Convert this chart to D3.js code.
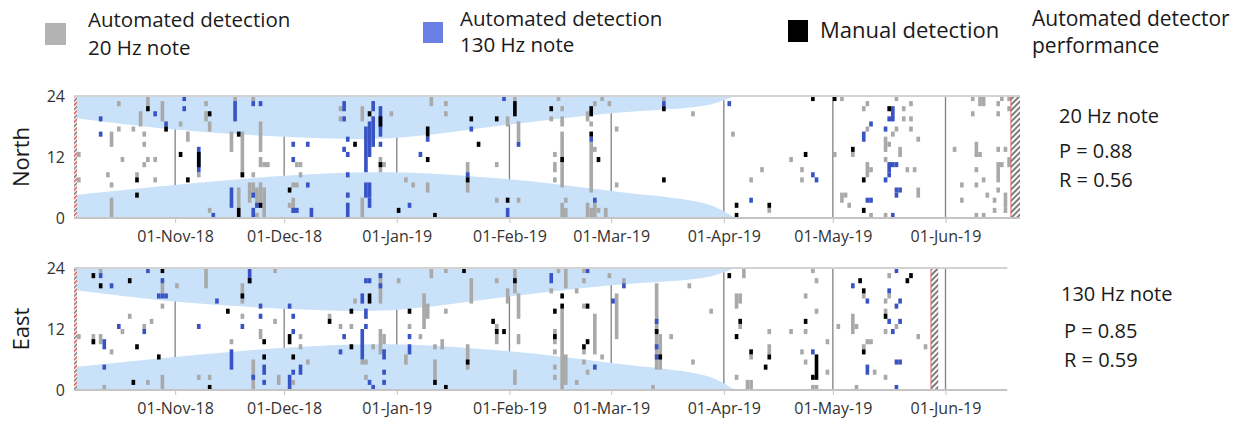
<!DOCTYPE html>
<html><head><meta charset="utf-8">
<script src="https://cdn.jsdelivr.net/npm/d3@7"></script>
<style>
body{margin:0;background:#fff;}
svg{display:block;font-family:"Open Sans",sans-serif;}
</style></head><body>
<svg id="c" width="1253" height="421"></svg>
<script>
// ---------------- DATA ----------------
// detections: [date, first hour, last hour] (hour cells, inclusive runs)
const north20 = [
["2018-10-05",12,12],["2018-10-05",7,7],["2018-10-13",8,8],["2018-10-14",14,16],["2018-10-14",6,6],["2018-10-14",0,3],
["2018-10-16",22,22],["2018-10-16",17,17],["2018-10-17",11,11],["2018-10-20",17,17],["2018-10-21",8,8],["2018-10-22",18,20],
["2018-10-23",16,16],["2018-10-23",14,14],["2018-10-23",10,10],["2018-10-24",11,11],["2018-10-24",22,23],["2018-10-26",11,11],
["2018-10-26",7,7],["2018-10-28",19,22],["2018-11-02",18,18],["2018-11-04",15,16],["2018-11-07",8,8],["2018-11-09",22,22],
["2018-11-09",19,20],["2018-11-10",17,18],["2018-11-10",1,1],["2018-11-17",23,23],["2018-11-16",13,16],["2018-11-18",2,5],
["2018-11-19",8,16],["2018-11-22",23,23],["2018-11-22",8,8],["2018-11-24",13,18],["2018-11-21",3,6],["2018-11-22",4,6],
["2018-11-23",2,5],["2018-11-24",3,6],["2018-11-25",1,5],["2018-11-23",0,0],["2018-11-25",0,0],["2018-11-24",10,11],
["2018-11-25",10,10],["2018-11-26",10,10],["2018-12-02",2,2],["2018-12-03",1,3],["2018-12-04",10,10],["2018-12-05",10,10],
["2018-12-04",6,6],["2018-12-05",8,8],["2018-12-03",6,6],["2018-12-16",19,19],["2018-12-16",21,21],["2018-12-18",4,4],
["2018-12-22",19,21],["2018-12-22",0,3],["2018-12-27",9,11],["2018-12-30",20,20],["2018-12-28",10,10],
["2019-01-10",22,23],["2019-01-14",22,22],["2019-01-14",20,20],["2019-01-03",7,7],["2019-01-05",6,6],["2019-01-09",5,6],
["2019-01-28",10,10],["2019-01-20",5,10],["2019-01-28",3,3],["2019-02-03",3,3],["2019-02-02",23,23],["2019-01-31",18,19],
["2019-02-03",15,18],["2019-02-14",23,23],["2019-02-15",21,21],["2019-02-12",19,19],["2019-02-15",6,16],["2019-02-15",18,19],
["2019-02-13",12,12],["2019-02-13",9,10],["2019-02-13",7,7],["2019-02-16",3,3],["2019-02-15",0,2],["2019-02-16",0,1],
["2019-02-22",19,20],["2019-02-24",22,22],["2019-02-26",23,23],["2019-02-28",22,22],["2019-02-23",18,18],["2019-02-23",5,14],
["2019-02-24",13,13],["2019-02-22",0,2],["2019-02-23",0,1],["2019-02-24",0,2],["2019-02-25",1,1],["2019-02-27",0,1],
["2019-03-02",17,17],["2019-03-02",6,6],["2019-03-15",23,23],["2019-03-23",20,20],
["2019-04-03",16,16],["2019-04-08",7,7],["2019-04-11",9,9],["2019-04-13",1,1],["2019-04-19",11,11],["2019-04-22",9,9],
["2019-04-22",7,7],["2019-05-03",23,23],["2019-05-01",12,12],["2019-05-03",3,4],["2019-05-04",4,4],["2019-05-06",12,12],
["2019-05-05",2,2],["2019-05-10",22,22],["2019-05-09",21,21],["2019-05-10",17,17],["2019-05-15",13,15],["2019-05-16",14,14],
["2019-05-18",17,17],["2019-05-17",16,16],["2019-05-20",21,21],["2019-05-20",19,19],["2019-05-22",17,17],["2019-05-22",19,19],
["2019-05-24",15,15],["2019-05-18",23,23],["2019-05-22",22,22],["2019-05-19",12,13],["2019-05-10",8,10],["2019-05-11",9,9],
["2019-05-15",11,11],["2019-05-21",9,9],["2019-05-23",9,9],["2019-05-24",4,5],["2019-05-11",0,0],["2019-05-15",0,0],
["2019-06-08",23,23],["2019-06-10",22,23],["2019-06-11",22,23],["2019-06-16",23,23],["2019-06-15",22,22],["2019-06-08",20,20],
["2019-06-15",20,20],["2019-06-03",13,13],["2019-06-09",12,14],["2019-06-10",12,12],["2019-06-15",13,13],["2019-06-17",13,13],
["2019-06-16",10,10],["2019-06-15",7,10],["2019-06-09",9,9],["2019-06-11",7,7],["2019-06-05",6,6],["2019-06-09",6,6],
["2019-06-12",4,4],["2019-06-15",5,5],["2019-06-05",3,3],["2019-06-14",3,3],["2019-06-17",2,4],["2019-06-09",0,0],
["2019-06-11",0,0],["2019-06-14",1,1],["2019-06-17",1,1],["2019-06-18",23,23],["2019-06-18",21,21],["2019-06-18",10,11]
];
const north130 = [
["2018-10-11",19,19],["2018-10-11",16,16],["2018-10-26",20,20],["2018-10-29",18,18],["2018-11-03",23,23],["2018-11-03",21,21],
["2018-11-07",9,13],["2018-11-11",0,0],["2018-11-17",19,22],["2018-11-16",2,5],["2018-11-22",22,22],["2018-11-24",22,22],
["2018-11-22",4,4],["2018-11-22",0,1],["2018-11-23",2,2],["2018-12-03",14,14],["2018-12-07",14,14],["2018-12-03",11,11],
["2018-12-07",6,6],["2018-12-03",1,1],["2018-12-04",1,1],["2018-12-08",0,1],["2018-12-17",21,22],["2018-12-17",19,19],
["2018-12-18",15,15],["2018-12-17",13,13],["2018-12-18",12,12],["2018-12-18",8,8],["2018-12-18",4,4],["2018-12-18",0,2],
["2018-12-23",9,17],["2018-12-24",12,18],["2018-12-25",14,19],["2018-12-25",21,22],["2018-12-23",4,6],["2018-12-24",4,6],
["2018-12-24",2,3],["2018-12-27",16,21],["2018-12-27",14,14],
["2019-01-07",12,12],["2019-01-09",15,15],["2019-01-04",2,2],["2019-01-21",17,17],["2019-01-20",8,8],["2019-01-30",23,23],
["2019-01-31",0,1],["2019-02-03",14,14],["2019-02-23",15,15],["2019-02-24",3,3],["2019-03-15",22,22],
["2019-04-02",22,22],["2019-04-08",3,3],["2019-04-25",8,8],["2019-04-26",7,7],["2019-05-11",18,18],["2019-05-09",15,16],
["2019-05-17",19,21],["2019-05-16",19,19],["2019-05-15",17,17],["2019-05-16",9,10],["2019-05-17",10,10],["2019-05-18",10,10],
["2019-05-16",8,8],["2019-05-15",7,7],["2019-05-18",5,5],["2019-05-19",5,5],["2019-05-18",4,4],["2019-05-10",3,3],
["2019-05-11",3,3],["2019-05-17",0,0]
];
const northManual = [
["2018-10-21",7,7],["2018-10-21",4,4],["2018-10-24",21,21],["2018-10-29",17,17],["2018-11-02",12,12],["2018-11-04",7,7],
["2018-11-07",10,12],["2018-11-10",20,20],["2018-11-18",16,16],["2018-11-18",0,1],["2018-11-19",8,8],["2018-11-24",2,2],
["2018-12-02",5,5],["2018-12-20",14,14],["2018-12-24",20,20],["2018-12-27",18,19],["2018-12-27",10,10],
["2019-01-09",16,17],["2019-01-09",11,11],["2019-01-01",1,1],["2019-01-11",0,0],["2019-01-21",19,19],["2019-01-23",14,14],
["2019-01-28",19,19],["2019-01-20",7,7],["2019-01-31",3,3],["2019-02-02",20,22],["2019-02-12",21,21],["2019-02-15",11,11],
["2019-02-23",20,21],["2019-02-23",16,16],["2019-02-25",11,11],["2019-03-15",21,21],["2019-03-15",7,7],
["2019-04-04",2,2],["2019-04-04",0,0],["2019-04-13",2,2],["2019-04-23",12,12],["2019-04-25",23,23],["2019-05-01",23,23],
["2019-05-06",13,13],["2019-05-16",21,21],["2019-05-09",7,7],["2019-05-09",1,1]
];
const east20 = [
["2018-10-05",10,10],["2018-10-09",9,10],["2018-10-11",9,10],["2018-10-11",23,23],["2018-10-14",7,7],["2018-10-12",0,0],
["2018-10-17",11,11],["2018-10-19",14,14],["2018-10-23",12,12],["2018-10-25",13,13],["2018-10-24",1,1],["2018-10-28",19,20],
["2018-10-28",16,16],["2018-10-28",0,2],["2018-11-01",20,20],["2018-11-09",20,23],["2018-11-07",2,2],["2018-11-10",2,2],
["2018-11-16",9,9],["2018-11-19",17,20],["2018-11-19",14,14],["2018-11-22",0,5],["2018-11-24",10,11],["2018-11-28",13,13],
["2018-11-28",23,23],["2018-11-29",1,2],["2018-12-05",10,10],["2018-12-05",8,8],["2018-12-07",5,5],["2018-12-03",1,1],
["2018-12-13",14,14],["2018-12-16",12,12],["2018-12-19",12,12],["2018-12-20",17,17],["2018-12-27",17,22],["2018-12-22",5,5],
["2018-12-23",5,5],["2018-12-23",2,2],["2018-12-28",9,10],["2018-12-25",8,8],["2018-12-27",7,11],
["2019-01-01",21,21],["2019-01-10",22,23],["2019-01-14",23,23],["2019-01-21",17,21],["2019-01-28",21,21],["2019-01-08",12,18],
["2019-01-09",14,16],["2019-01-14",15,15],["2019-01-04",12,12],["2019-01-07",10,10],["2019-01-03",5,6],["2019-01-11",8,8],
["2019-01-13",8,9],["2019-01-11",2,5],["2019-01-20",4,8],["2019-01-28",9,12],["2019-02-02",19,23],["2019-01-31",17,19],
["2019-02-03",14,18],["2019-02-03",9,10],["2019-02-02",1,3],["2019-02-14",23,23],["2019-02-16",20,23],["2019-02-12",19,19],
["2019-02-15",0,15],["2019-02-13",9,11],["2019-02-13",7,7],["2019-02-13",4,4],["2019-02-13",2,2],["2019-02-16",1,6],
["2019-02-19",19,19],["2019-02-21",21,21],["2019-02-21",23,23],["2019-02-21",16,16],["2019-02-24",7,14],["2019-02-21",7,7],
["2019-02-21",5,5],["2019-02-22",3,3],["2019-02-19",1,1],["2019-02-26",6,6],["2019-02-28",22,22],["2019-03-04",21,21],
["2019-03-02",10,18],["2019-03-13",4,20],["2019-03-14",4,10],["2019-03-17",10,10],["2019-03-22",20,20],["2019-03-23",5,5],
["2019-03-12",0,0],["2019-03-28",15,15],
["2019-04-06",22,23],["2019-04-04",16,18],["2019-04-05",17,18],["2019-04-05",12,12],["2019-04-13",11,11],["2019-04-13",7,8],
["2019-04-08",6,6],["2019-04-04",2,2],["2019-04-07",0,1],["2019-04-08",0,1],["2019-04-19",11,11],["2019-04-23",11,11],
["2019-04-23",18,18],["2019-04-26",21,21],["2019-04-25",23,23],["2019-04-26",15,15],["2019-04-29",9,9],["2019-04-22",7,7],
["2019-04-23",5,5],["2019-04-25",0,0],["2019-04-26",0,0],["2019-04-29",3,3],["2019-05-02",12,12],["2019-05-06",11,14],
["2019-05-07",12,12],["2019-05-09",18,18],["2019-05-09",8,8],["2019-05-10",9,9],["2019-05-11",9,9],["2019-05-12",3,3],
["2019-05-07",0,0],["2019-05-15",17,17],["2019-05-15",15,15],["2019-05-15",11,11],["2019-05-18",12,12],["2019-05-24",10,10],
["2019-05-26",8,8],["2019-05-15",2,2],["2019-05-16",22,22],["2019-05-16",18,18]
];
const east130 = [
["2018-10-11",22,22],["2018-10-14",20,20],["2018-10-12",8,9],["2018-10-12",4,4],["2018-10-16",12,12],["2018-10-23",11,11],
["2018-10-24",23,23],["2018-10-28",21,21],["2018-10-27",18,18],["2018-10-28",18,18],["2018-10-29",18,18],["2018-11-07",12,12],
["2018-11-12",17,17],["2018-11-16",4,7],["2018-11-19",12,12],["2018-11-21",21,23],["2018-11-22",2,2],["2018-11-24",16,16],
["2018-11-24",14,14],["2018-11-25",3,4],["2018-11-25",1,1],["2018-12-02",16,16],["2018-12-03",14,14],["2018-12-03",11,11],
["2018-12-03",3,3],["2018-12-05",3,4],["2018-12-02",0,2],["2018-12-17",10,10],["2018-12-16",7,7],["2018-12-23",21,21],
["2018-12-24",21,21],["2018-12-22",17,18],["2018-12-23",14,15],["2018-12-22",6,11],["2018-12-23",12,12],["2018-12-27",22,22],
["2018-12-27",20,20],["2018-12-28",6,7],["2018-12-28",3,3],["2018-12-28",1,1],["2018-12-24",1,1],["2018-12-25",0,0],
["2019-01-04",10,10],["2019-01-04",7,8],["2019-02-12",21,22],["2019-02-22",23,23],["2019-02-24",4,4],["2019-03-04",20,20],
["2019-03-01",17,17],["2019-03-13",13,13],["2019-03-13",8,8],["2019-03-13",6,6],["2019-04-25",7,7],["2019-05-06",20,20],
["2019-05-10",17,17],["2019-05-10",3,4],["2019-05-16",19,19],["2019-05-16",13,13],["2019-05-17",11,11],["2019-05-18",16,16],
["2019-05-19",17,17],["2019-05-19",13,13],["2019-05-18",5,5],["2019-05-19",5,5],["2019-05-18",0,0],["2019-05-18",23,23]
];
const eastManual = [
["2018-10-09",22,22],["2018-10-11",20,20],["2018-10-19",21,21],["2018-10-09",9,9],["2018-10-21",8,8],["2018-10-20",1,1],
["2018-10-28",23,23],["2018-10-27",6,6],["2018-11-10",0,0],["2018-11-15",15,15],["2018-11-19",18,18],["2018-11-21",21,21],
["2018-11-25",9,9],["2018-11-25",6,6],["2018-12-02",9,10],["2018-12-03",6,6],["2018-12-13",13,13],["2018-12-19",15,15],
["2018-12-19",8,8],["2018-12-24",17,18],["2019-01-04",15,15],["2019-01-11",1,1],["2019-01-14",0,0],["2019-01-19",23,23],
["2019-01-20",5,5],["2019-01-27",13,13],["2019-01-28",11,11],["2019-01-30",11,11],["2019-02-02",21,21],["2019-02-15",18,18],
["2019-02-15",16,16],["2019-02-13",15,15],["2019-02-13",10,10],["2019-02-22",16,16],["2019-02-21",8,8],["2019-02-22",9,9],
["2019-03-13",11,11],["2019-03-14",6,6],["2019-04-02",22,22],["2019-04-05",13,13],["2019-04-04",10,10],["2019-04-08",7,7],
["2019-04-13",6,6],["2019-04-12",4,4],["2019-04-23",13,13],["2019-04-26",2,6],["2019-04-25",2,2],["2019-05-08",21,21],
["2019-05-09",19,19],["2019-05-09",7,7],["2019-05-15",14,14],["2019-05-21",21,21],["2019-05-22",22,22]
];
// darkness (night) boundaries, hour of day
const nightDates = ["2018-10-04","2018-11-01","2018-12-01","2018-12-30","2019-02-01","2019-03-01","2019-03-28","2019-04-04"];
const nightDusk  = [19.7, 17.4, 16.0, 15.7, 18.4, 20.6, 22.3, 24];
const nightDawn  = [4.5, 6.5, 8.3, 9.0, 7.6, 5.3, 2.6, 0];
// recording gaps (hatched) and panel extents
const northGaps = [["2018-10-04","2018-10-05"],["2019-06-19","2019-06-22"]];
const eastGaps  = [["2018-10-04","2018-10-05"],["2019-05-28","2019-05-30"]];
const hourTicks = [0, 12, 24];
const legendLabels = [["Automated detection","20 Hz note"],["Automated detection","130 Hz note"],["Manual detection"]];
const perfNorth = ["20 Hz note","P = 0.88","R = 0.56"];
const perfEast  = ["130 Hz note","P = 0.85","R = 0.59"];

// ---------------- DRAW ----------------
const parse = d3.timeParse("%Y-%m-%d");
const fmt = d3.timeFormat("%d-%b-%y");
const svg = d3.select("#c");
const C = {gray:"#a9a9a9", blue:"#3753c4", black:"#000", night:"#c9e2fa", grid:"#808080", text:"#1a1a1a"};

const x = d3.scaleTime().domain([new Date(2018,9,4,4), new Date(2019,5,21,12)]).range([74,1020]);
const months = d3.timeMonth.range(new Date(2018,10,1), new Date(2019,5,2));

const defs = svg.append("defs");
const p1 = defs.append("pattern").attr("id","hatch").attr("width",4).attr("height",4)
  .attr("patternUnits","userSpaceOnUse").attr("patternTransform","rotate(45)");
p1.append("rect").attr("width",4).attr("height",4).attr("fill","#fff");
p1.append("rect").attr("width",2).attr("height",4).attr("fill","#7d7d7d");
const p2 = defs.append("pattern").attr("id","hatchRG").attr("width",6).attr("height",6)
  .attr("patternUnits","userSpaceOnUse").attr("patternTransform","rotate(45)");
p2.append("rect").attr("width",6).attr("height",6).attr("fill","#fff");
p2.append("rect").attr("width",1.6).attr("height",6).attr("fill","#d9595c");
p2.append("rect").attr("x",3).attr("width",1.6).attr("height",6).attr("fill","#7d7d7d");

const night = nightDates.map((d,i)=>({d:parse(d), dusk:nightDusk[i], dawn:nightDawn[i]}));

const panels = [
  {name:"North", top:96, bottom:218, end:new Date(2019,5,21,12), gaps:northGaps, sets:[north20,north130,northManual], perf:perfNorth, perfY:[123,158,187], perfX:[1059,1059,1059]},
  {name:"East", top:268, bottom:390, end:parse("2019-06-18"), gaps:eastGaps, sets:[east20,east130,eastManual], perf:perfEast, perfY:[301,338,367], perfX:[1061,1064,1064]}
];

panels.forEach((P,pi)=>{
  const y = d3.scaleLinear().domain([0,24]).range([P.bottom,P.top]);
  const g = svg.append("g");
  const cid = "clip"+pi;
  defs.append("clipPath").attr("id",cid).append("rect")
    .attr("x",x.range()[0]).attr("y",P.top).attr("width",x(P.end)-x.range()[0]).attr("height",P.bottom-P.top);
  const pg = g.append("g").attr("clip-path",`url(#${cid})`);
  // month gridlines
  pg.selectAll(".gl").data(months).join("line")
    .attr("x1",d=>x(d)).attr("x2",d=>x(d)).attr("y1",P.top).attr("y2",P.bottom)
    .attr("stroke",C.grid).attr("stroke-width",1.3);
  // night shading
  pg.append("path").datum(night).attr("fill",C.night)
    .attr("d", d3.area().x(d=>x(d.d)).y0(y(24)).y1(d=>y(d.dusk)).curve(d3.curveCatmullRom.alpha(0.5)));
  pg.append("path").datum(night).attr("fill",C.night)
    .attr("d", d3.area().x(d=>x(d.d)).y0(y(0)).y1(d=>y(d.dawn)).curve(d3.curveCatmullRom.alpha(0.5)));
  // detection cells
  [C.gray, C.blue, C.black].forEach((col,k)=>{
    pg.append("g").selectAll("rect").data(P.sets[k]).join("rect")
      .attr("x",d=>x(parse(d[0])))
      .attr("width",d=>x(d3.timeDay.offset(parse(d[0]),1))-x(parse(d[0])))
      .attr("y",d=>y(d[2]+1)).attr("height",d=>y(d[1])-y(d[2]+1))
      .attr("fill",col);
  });
  // hatched gaps
  P.gaps.forEach((gp,i)=>{
    const x0 = Math.max(x(parse(gp[0])), x.range()[0]), x1 = Math.min(x(parse(gp[1])), x(P.end));
    pg.append("rect").attr("x",x0).attr("y",P.top).attr("width",x1-x0).attr("height",P.bottom-P.top)
      .attr("fill", i===0 ? "url(#hatchRG)" : "url(#hatch)");
    if(i>0) pg.append("line").attr("x1",x0).attr("x2",x0).attr("y1",P.top).attr("y2",P.bottom)
      .attr("stroke","#e0606a").attr("stroke-width",1);
  });
  // frame
  g.append("line").attr("x1",x.range()[0]).attr("x2",x(P.end)).attr("y1",P.top).attr("y2",P.top)
    .attr("stroke","#d2d2d2").attr("stroke-width",2);
  const xa = g.append("g").attr("transform",`translate(0,${P.bottom})`)
    .call(d3.axisBottom(x).tickValues(months).tickFormat(fmt).tickSize(5).tickPadding(8));
  xa.select(".domain").remove();
  xa.selectAll(".tick line").attr("stroke","#c4c4c4");
  xa.selectAll("text").attr("font-size",16).attr("fill","#333").attr("font-family","Open Sans");
  g.append("line").attr("x1",x.range()[0]).attr("x2",x(P.end)).attr("y1",P.bottom).attr("y2",P.bottom)
    .attr("stroke","#c4c4c4").attr("stroke-width",2);
  const ya = g.append("g").attr("transform",`translate(${x.range()[0]},0)`)
    .call(d3.axisLeft(y).tickValues(hourTicks).tickSize(0).tickPadding(9));
  ya.select(".domain").remove();
  ya.selectAll("text").attr("font-size",16).attr("fill","#333").attr("font-family","Open Sans");
  // panel title
  g.append("text").attr("transform",`translate(29,${(P.top+P.bottom)/2}) rotate(-90)`)
    .attr("text-anchor","middle").attr("font-size",22).attr("fill",C.text).text(P.name);
  // performance text
  P.perf.forEach((t,i)=>g.append("text").attr("x",P.perfX[i]).attr("y",P.perfY[i])
    .attr("font-size",20).attr("fill",C.text).text(t));
});

// legend
const leg = [
  {col:"#b3b3b3", sq:[45,23,21,22], tx:88, ty:[27,55], fs:20.5},
  {col:"#6a80e4", sq:[423,22,20,21], tx:460, ty:[26,52], fs:20.5},
  {col:"#000", sq:[788,20,20,22], tx:820, ty:[38], fs:22}
];
leg.forEach((L,i)=>{
  svg.append("rect").attr("x",L.sq[0]).attr("y",L.sq[1]).attr("width",L.sq[2]).attr("height",L.sq[3]).attr("fill",L.col);
  legendLabels[i].forEach((t,j)=>svg.append("text").attr("x",L.tx).attr("y",L.ty[j])
    .attr("font-size",L.fs).attr("fill",C.text).text(t));
});
["Automated detector","performance"].forEach((t,j)=>svg.append("text").attr("x",1032).attr("y",[26,53][j])
  .attr("font-size",21).attr("fill",C.text).text(t));
</script>
</body></html>
